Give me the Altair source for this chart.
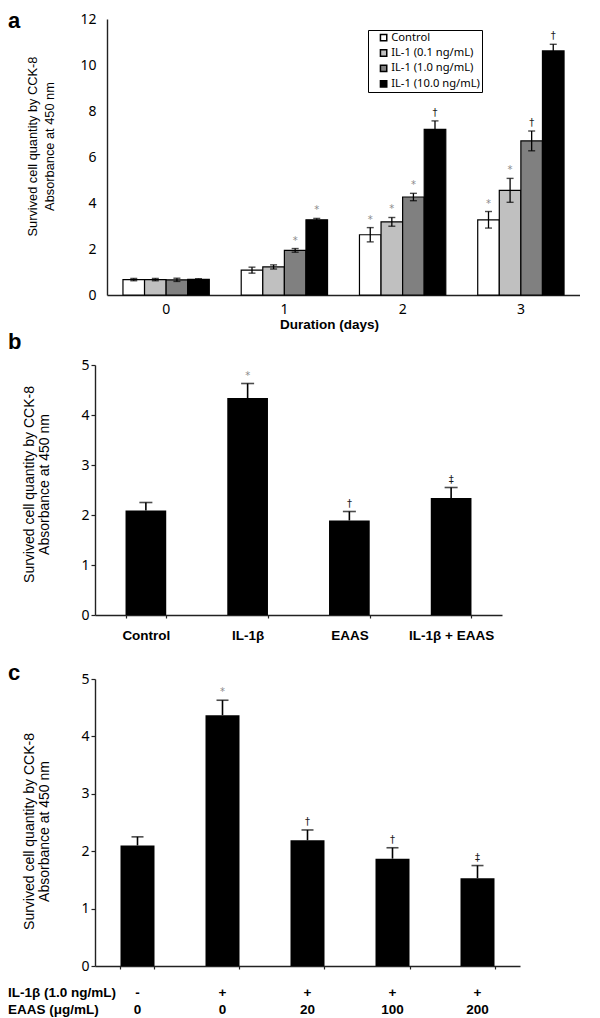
import altair as alt
import pandas as pd

# ---------------- Panel a data ----------------
days = ["0", "1", "2", "3"]
series = ["Control", "IL-1 (0.1 ng/mL)", "IL-1 (1.0 ng/mL)", "IL-1 (10.0 ng/mL)"]
series_colors = ["#ffffff", "#c0c0c0", "#808080", "#000000"]
a_control = [0.67, 1.08, 2.62, 3.27]
a_il01 = [0.67, 1.22, 3.18, 4.55]
a_il10 = [0.66, 1.94, 4.26, 6.70]
a_il100 = [0.68, 3.27, 7.20, 10.61]
a_err_control = [0.05, 0.13, 0.31, 0.36]
a_err_il01 = [0.05, 0.09, 0.19, 0.52]
a_err_il10 = [0.07, 0.08, 0.16, 0.43]
a_err_il100 = [0.03, 0.06, 0.37, 0.29]
a_sig_control = ["", "", "*", "*"]
a_sig_il01 = ["", "", "*", "*"]
a_sig_il10 = ["", "*", "*", "†"]
a_sig_il100 = ["", "*", "†", "†"]
a_yticks = [0, 2, 4, 6, 8, 10, 12]

# ---------------- Panel b data ----------------
b_groups = ["Control", "IL-1β", "EAAS", "IL-1β + EAAS"]
b_values = [2.09, 4.34, 1.89, 2.34]
b_errs = [0.16, 0.29, 0.18, 0.21]
b_sig = ["", "*", "†", "‡"]
b_yticks = [0, 1, 2, 3, 4, 5]

# ---------------- Panel c data ----------------
c_il1b = ["-", "+", "+", "+", "+"]
c_eaas = ["0", "0", "20", "100", "200"]
c_values = [2.10, 4.37, 2.19, 1.87, 1.53]
c_errs = [0.15, 0.26, 0.18, 0.19, 0.22]
c_sig = ["", "*", "†", "†", "‡"]
c_row_labels = ["IL-1β (1.0 ng/mL)", "EAAS (μg/mL)"]
c_yticks = [0, 1, 2, 3, 4, 5]

Y_TITLE = ["Survived cell quantity by CCK-8", "Absorbance at 450 nm"]
SIG_COLOR = alt.condition(alt.datum.sig == "*", alt.value("#8a8a8a"), alt.value("#1a1a1a"))

# ---------------- Panel a ----------------
rows = []
for s, vals, errs, sigs in zip(series,
                               [a_control, a_il01, a_il10, a_il100],
                               [a_err_control, a_err_il01, a_err_il10, a_err_il100],
                               [a_sig_control, a_sig_il01, a_sig_il10, a_sig_il100]):
    for d, v, e, g in zip(days, vals, errs, sigs):
        rows.append({"day": d, "series": s, "value": v, "lo": v - e, "hi": v + e, "sig": g})
df_a = pd.DataFrame(rows)

xa = alt.X("day:N", sort=days,
           scale=alt.Scale(range=[12, 485], paddingInner=0.27, paddingOuter=0.135),
           axis=alt.Axis(title="Duration (days)", labelAngle=0, ticks=False, labelPadding=7.5,
                         labelFont="Noto Sans", labelFontSize=14,
                         titleFont="Liberation Sans", titleFontSize=13.5, titleFontWeight="bold",
                         titlePadding=0.5, titleX=234))
xo = alt.XOffset("series:N", sort=series, scale=alt.Scale(paddingInner=0, paddingOuter=0))
ya_scale = alt.Scale(domain=[0, 12], nice=False)
ya_axis = alt.Axis(values=a_yticks, offset=-12, ticks=False, labelPadding=11,
                   title=Y_TITLE, titleX=-75, titleY=127, titleAngle=270, titleFontSize=12.8,
                   titleAlign="center", titleBaseline="middle", titleLineHeight=17)


def ya(field):
    return alt.Y(field, scale=ya_scale, axis=ya_axis)


base_a = alt.Chart(df_a)
bars_a = base_a.mark_bar(stroke="black", strokeWidth=1.2).encode(
    x=xa, xOffset=xo, y=ya("value:Q"),
    color=alt.Color("series:N", sort=series,
                    scale=alt.Scale(domain=series, range=series_colors),
                    legend=alt.Legend(orient="none", legendX=273, legendY=11, title=None,
                                      fillColor="white", strokeColor="black", padding=2,
                                      symbolType="square", symbolSize=40,
                                      symbolStrokeColor="black", symbolStrokeWidth=1.5,
                                      symbolOffset=8, labelOffset=2, labelFont="Noto Sans",
                                      labelFontSize=11.2, rowPadding=2.4, labelLimit=300,
                                      labelColor="black")))
err_a = base_a.mark_rule(color="black", strokeWidth=1.3).encode(
    x=xa, xOffset=xo, y=ya("lo:Q"), y2="hi:Q")
cap_hi_a = base_a.mark_tick(orient="horizontal", size=7, thickness=1.4, color="black").encode(
    x=xa, xOffset=xo, y=ya("hi:Q"))
cap_lo_a = base_a.mark_tick(orient="horizontal", size=7, thickness=1.4, color="black").encode(
    x=xa, xOffset=xo, y=ya("lo:Q"))
sig_a = base_a.mark_text(baseline="alphabetic", dy=-5, fontSize=10, font="DejaVu Sans").encode(
    x=xa, xOffset=xo, y=ya("hi:Q"), text="sig:N", color=SIG_COLOR)
lab_a = alt.Chart(pd.DataFrame({"t": ["a"]})).mark_text(
    align="left", baseline="top", fontSize=22, fontWeight="bold", font="Liberation Sans",
    color="black").encode(x=alt.value(-87), y=alt.value(-8.5), text="t:N")
spacer_a = alt.Chart(pd.DataFrame({"k": [0]})).mark_rule(opacity=0).encode(
    x=alt.value(0), x2=alt.value(1), y=alt.value(-11))

panel_a = alt.layer(bars_a, err_a, cap_hi_a, cap_lo_a, sig_a, lab_a, spacer_a).properties(
    width=485, height=276)

# ---------------- Panel b ----------------
df_b = pd.DataFrame({"grp": b_groups, "value": b_values,
                     "hi": [v + e for v, e in zip(b_values, b_errs)], "sig": b_sig})
xb = alt.X("grp:N", sort=b_groups, scale=alt.Scale(paddingInner=0.6, paddingOuter=0.3),
           axis=alt.Axis(title=None, labelAngle=0, tickSize=3, tickBand="extent", labelPadding=10,
                         labelFont="Liberation Sans", labelFontWeight="bold", labelFontSize=13.5))
yb_scale = alt.Scale(domain=[0, 5], nice=False)
yb_axis = alt.Axis(values=b_yticks, tickSize=4, labelPadding=2, labelFontSize=14,
                   title=Y_TITLE, titleX=-66, titleY=119, titleAngle=270, titleFontSize=14,
                   titleAlign="center", titleBaseline="middle", titleLineHeight=15)


def yb(field):
    return alt.Y(field, scale=yb_scale, axis=yb_axis)


base_b = alt.Chart(df_b)
bars_b = base_b.mark_bar(color="black").encode(x=xb, y=yb("value:Q"))
err_b = base_b.mark_rule(color="black", strokeWidth=1.6).encode(
    x=xb, y=yb("value:Q"), y2="hi:Q")
cap_b = base_b.mark_tick(orient="horizontal", size=13, thickness=1.6, color="black").encode(
    x=xb, y=yb("hi:Q"))
sig_b = base_b.mark_text(baseline="alphabetic", dy=-5, fontSize=10, font="DejaVu Sans").encode(
    x=xb, y=yb("hi:Q"), text="sig:N", color=SIG_COLOR)
lab_b = alt.Chart(pd.DataFrame({"t": ["b"]})).mark_text(
    align="left", baseline="top", fontSize=22, fontWeight="bold", font="Liberation Sans",
    color="black").encode(x=alt.value(-87), y=alt.value(-33), text="t:N")

panel_b = alt.layer(bars_b, err_b, cap_b, sig_b, lab_b).properties(width=407, height=250)

# ---------------- Panel c ----------------
c_keys = [f"{i}|{e}" for i, e in zip(c_il1b, c_eaas)]
df_c = pd.DataFrame({"key": c_keys, "il": c_il1b, "eaas": c_eaas, "value": c_values,
                     "hi": [v + e for v, e in zip(c_values, c_errs)], "sig": c_sig})
xc = alt.X("key:N", sort=c_keys, scale=alt.Scale(paddingInner=0.6, paddingOuter=0.3),
           axis=alt.Axis(title=None, labels=False, tickSize=3, tickBand="extent"))
yc_scale = alt.Scale(domain=[0, 5], nice=False)
yc_axis = alt.Axis(values=c_yticks, tickSize=4, labelPadding=2, labelFontSize=14,
                   title=Y_TITLE, titleX=-66, titleY=152, titleAngle=270, titleFontSize=14,
                   titleAlign="center", titleBaseline="middle", titleLineHeight=15)


def yc(field):
    return alt.Y(field, scale=yc_scale, axis=yc_axis)


ROW_FONT = dict(fontSize=13.5, fontWeight="bold", font="Liberation Sans", color="black")
base_c = alt.Chart(df_c)
bars_c = base_c.mark_bar(color="black").encode(x=xc, y=yc("value:Q"))
err_c = base_c.mark_rule(color="black", strokeWidth=1.6).encode(
    x=xc, y=yc("value:Q"), y2="hi:Q")
cap_c = base_c.mark_tick(orient="horizontal", size=12, thickness=1.6, color="black").encode(
    x=xc, y=yc("hi:Q"))
sig_c = base_c.mark_text(baseline="alphabetic", dy=-5, fontSize=10, font="DejaVu Sans").encode(
    x=xc, y=yc("hi:Q"), text="sig:N", color=SIG_COLOR)
row1_c = base_c.mark_text(baseline="middle", **ROW_FONT).encode(
    x=xc, y=alt.value(314), text="il:N")
row2_c = base_c.mark_text(baseline="middle", **ROW_FONT).encode(
    x=xc, y=alt.value(331), text="eaas:N")
head1_c = alt.Chart(pd.DataFrame({"t": [c_row_labels[0]]})).mark_text(
    align="left", baseline="middle", **ROW_FONT).encode(
    x=alt.value(-87), y=alt.value(314), text="t:N")
head2_c = alt.Chart(pd.DataFrame({"t": [c_row_labels[1]]})).mark_text(
    align="left", baseline="middle", **ROW_FONT).encode(
    x=alt.value(-87), y=alt.value(331), text="t:N")
lab_c = alt.Chart(pd.DataFrame({"t": ["c"]})).mark_text(
    align="left", baseline="top", fontSize=22, fontWeight="bold", font="Liberation Sans",
    color="black").encode(x=alt.value(-87), y=alt.value(-16), text="t:N")
spacer_c = alt.Chart(pd.DataFrame({"k": [0]})).mark_rule(opacity=0).encode(
    x=alt.value(0), x2=alt.value(1), y=alt.value(-36.5))

panel_c = alt.layer(bars_c, err_c, cap_c, sig_c, row1_c, row2_c, head1_c, head2_c,
                    lab_c, spacer_c).properties(width=425, height=287)

chart = alt.vconcat(panel_a, panel_b, panel_c, spacing=0).properties(
    padding={"left": 0, "top": 0, "right": 0, "bottom": 0},
    background="white",
).configure_view(stroke=None).configure_axis(
    domainColor="#222222", domainWidth=1.4, tickColor="#222222", tickWidth=1.2,
    labelColor="black", labelFont="Noto Sans", labelFontSize=14, grid=False,
    titleFont="Liberation Sans", titleFontSize=12, titleFontWeight="normal", titleColor="black",
)

chart.save("out.html", embed_options={"renderer": "svg", "actions": False})
